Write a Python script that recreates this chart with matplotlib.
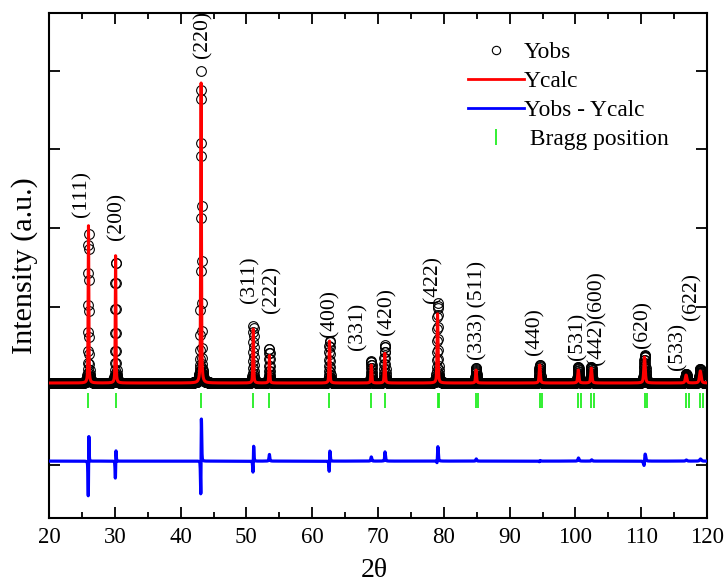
import numpy as np
import matplotlib.pyplot as plt
from matplotlib.lines import Line2D
from matplotlib.ticker import MultipleLocator

plt.rcParams['font.family'] = ['Liberation Serif', 'DejaVu Serif']

peak_pos = [26.00, 30.12, 43.11, 51.04, 53.49, 62.62, 68.98, 71.03,
            79.05, 84.90, 94.58, 100.44, 102.42, 110.50, 116.82, 118.98]
calc_top = [3033, 2653, 4918, 1724, 1394, 1572, 1267, 1420,
            1926, 1204, 1267, 1204, 1229, 1369, 1140, 1191]
obs_top = [2930, 2590, 5000, 1760, 1480, 1572, 1320, 1520,
           2050, 1229, 1267, 1242, 1242, 1394, 1153, 1217]
obs_shift = [0.018, 0.010, 0.012, 0.025, 0.0, 0.028, 0.0, 0.01,
             0.012, 0.005, 0.005, 0.005, 0.005, 0.04, 0.005, 0.005]
fwhm = [0.12, 0.12, 0.13, 0.14, 0.14, 0.15, 0.16, 0.16,
        0.17, 0.18, 0.20, 0.22, 0.22, 0.25, 0.28, 0.30]
background = 1040
diff_offset = 50

# Bragg markers (Ka1 and Ka2 at high angle)
bragg_pos = [26.00, 30.12, 43.11, 51.04, 53.49, 62.62, 68.98, 71.03,
             79.05, 79.28, 84.90, 85.16, 94.58, 94.89, 100.44, 100.78,
             102.42, 102.77, 110.50, 110.91, 116.82, 117.28, 118.98, 119.46]

# hkl labels and where they sit
label_text = ['(111)', '(200)', '(220)', '(311)', '(222)', '(400)', '(331)',
              '(420)', '(422)', '(333) (511)', '(440)', '(531)', '(442)(600)',
              '(620)', '(533)', '(622)']
label_x = [25.02, 30.33, 43.40, 50.55, 53.89, 62.71, 66.97, 71.38,
           78.36, 85.20, 93.86, 100.40, 103.28, 110.27, 115.59, 117.72]
label_y = [3143, 2852, 5158, 2053, 1926, 1622, 1458, 1648,
           2053, 1331, 1394, 1331, 1267, 1483, 1204, 1838]


def pvoigt(x, x0, w, eta=0.5):
    t = (x - x0) / w
    return eta / (1 + 4 * t**2) + (1 - eta) * np.exp(-4 * np.log(2) * t**2)


tt = np.arange(20, 120.001, 0.02)
ycalc = np.full(tt.shape, float(background))
yobs = np.full(tt.shape, float(background))
for p, c, o, s, w in zip(peak_pos, calc_top, obs_top, obs_shift, fwhm):
    ycalc += (c - background) * pvoigt(tt, p, w)
    yobs += (o - background) * pvoigt(tt, p + s, w)
ydiff = yobs - ycalc + diff_offset

fig = plt.figure(figsize=(7.28, 5.83), dpi=100)
ax = fig.add_axes([0.0673, 0.1123, 0.9039, 0.8654])

ax.plot(tt, yobs, 'o', mfc='none', mec='black', ms=7, mew=0.8, zorder=2)
ax.plot(tt, ycalc, color='red', lw=2.2, zorder=3)
ax.plot(tt, ydiff, color='blue', lw=2.3, zorder=3)
ax.vlines(bragg_pos, 722, 913, color='#22ee22', lw=1.3)

for s, x, y in zip(label_text, label_x, label_y):
    ax.text(x, y, s, rotation=90, ha='center', va='bottom', fontsize=15.6)

ax.set_xlim(20, 120)
ax.set_ylim(-665, 5729)
ax.set_xticks(range(20, 121, 10))
ax.xaxis.set_minor_locator(MultipleLocator(5))
ax.set_yticks(range(0, 6000, 1000))
ax.set_yticklabels([])
ax.tick_params(which='both', direction='in', top=True, right=True, width=1.3)
ax.tick_params(which='major', length=8, labelsize=16.5, pad=7)
ax.tick_params(which='minor', length=4)
for sp in ax.spines.values():
    sp.set_linewidth(1.5)

ax.set_xlabel('2θ', fontsize=20)
ax.xaxis.set_label_coords(0.495, -0.081)
ax.set_ylabel('Intensity (a.u.)', fontsize=21.7)
ax.yaxis.set_label_coords(-0.017, 0.5)

handles = [
    Line2D([], [], ls='none', marker='o', mfc='none', mec='black', ms=6, mew=0.8),
    Line2D([], [], color='red', lw=2),
    Line2D([], [], color='blue', lw=2),
    Line2D([], [], ls='none', marker='|', color='#22ee22', ms=12, mew=1.3),
]
labels = ['Yobs', 'Ycalc', 'Yobs - Ycalc', ' Bragg position']
ax.legend(handles, labels, loc='upper left', bbox_to_anchor=(0.637, 0.943),
          frameon=False, fontsize=16.8, handlelength=2.4, handletextpad=0.0,
          labelspacing=0.33, borderpad=0, borderaxespad=0)

fig.savefig('out.png', dpi=100)
